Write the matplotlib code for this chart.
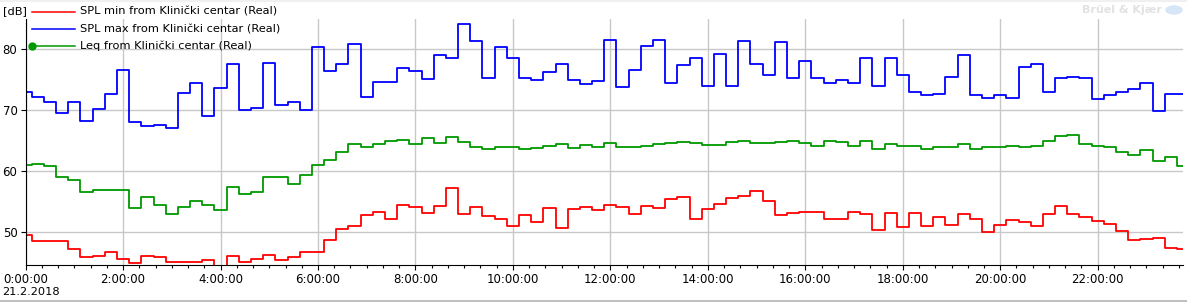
#Libraries
import numpy as np
import pandas as pd
import matplotlib
matplotlib.use('Agg')
import matplotlib.pyplot as plt
import matplotlib.dates as mdates
from matplotlib.lines import Line2D
from matplotlib.ticker import FuncFormatter
from matplotlib.patches import Ellipse

#15 minute values for 21.2.2018
times = pd.date_range('2018-02-21 00:00', periods=96, freq='15min')

spl_max = [73.0, 72.1, 71.3, 69.5, 71.4, 68.2, 70.2, 72.6, 76.6, 68.0,
           67.4, 67.5, 67.0, 72.8, 74.5, 69.1, 73.6, 77.5, 70.0, 70.3,
           77.7, 70.8, 71.3, 70.0, 80.3, 76.4, 77.6, 80.8, 72.1, 74.6,
           74.6, 76.9, 76.4, 75.1, 79.1, 78.5, 84.1, 81.3, 75.2, 80.3,
           78.5, 75.2, 74.9, 76.2, 77.5, 74.9, 74.3, 74.8, 81.5, 73.8,
           76.6, 80.5, 81.5, 74.4, 77.4, 78.5, 73.9, 79.2, 73.9, 81.3,
           77.6, 75.8, 81.1, 75.2, 78.0, 75.2, 74.4, 74.9, 74.4, 78.5,
           74.0, 78.6, 75.8, 73.0, 72.4, 72.7, 75.5, 79.0, 72.4, 72.0,
           72.4, 72.0, 77.0, 77.5, 73.0, 75.2, 75.5, 75.2, 71.9, 72.4,
           73.0, 73.5, 74.5, 69.9, 72.7, 72.7]

leq = [61.0, 61.2, 60.8, 59.0, 58.5, 56.6, 57.0, 57.0, 56.9, 53.9,
       55.7, 54.4, 53.0, 54.1, 55.1, 54.4, 53.6, 57.4, 56.2, 56.6,
       59.0, 59.0, 57.9, 59.4, 61.0, 61.8, 63.1, 64.4, 63.9, 64.4,
       64.9, 65.1, 64.4, 65.4, 64.6, 65.6, 64.8, 63.9, 63.6, 63.9,
       63.9, 63.6, 63.8, 64.1, 64.4, 63.8, 64.3, 63.9, 64.6, 63.9,
       63.9, 64.1, 64.4, 64.6, 64.8, 64.6, 64.3, 64.3, 64.8, 64.9,
       64.6, 64.6, 64.8, 64.9, 64.6, 64.2, 64.9, 64.7, 64.2, 64.9,
       63.7, 64.4, 64.2, 64.2, 63.7, 63.9, 63.9, 64.4, 63.6, 63.9,
       63.9, 64.2, 63.9, 64.1, 64.9, 65.7, 65.9, 64.4, 64.2, 63.9,
       63.1, 62.6, 63.4, 61.6, 62.3, 60.8]

spl_min = [49.5, 48.5, 48.5, 48.5, 47.2, 45.9, 46.1, 46.7, 45.7, 44.9,
           46.1, 45.9, 45.1, 45.1, 45.1, 45.4, 44.3, 46.1, 45.1, 45.6,
           46.2, 45.4, 45.9, 46.7, 46.7, 48.7, 50.5, 51.1, 52.8, 53.4,
           52.1, 54.4, 54.1, 53.1, 54.3, 57.2, 53.0, 54.1, 52.6, 52.1,
           51.0, 52.8, 51.6, 53.9, 50.7, 53.8, 54.1, 53.6, 54.4, 54.1,
           53.0, 54.3, 53.9, 55.4, 55.7, 52.1, 53.8, 54.6, 55.6, 55.9,
           56.7, 55.1, 52.8, 53.1, 53.4, 53.4, 52.2, 52.2, 53.4, 53.0,
           50.4, 53.2, 50.9, 53.2, 51.0, 52.5, 51.2, 53.0, 52.2, 50.1,
           51.2, 52.0, 51.7, 51.0, 53.0, 54.3, 53.0, 52.5, 51.9, 51.4,
           50.2, 48.7, 48.9, 49.1, 47.4, 47.3]

labels = ['SPL min from Klinički centar (Real)',
          'SPL max from Klinički centar (Real)',
          'Leq from Klinički centar (Real)']
colors = ['#ff0000', '#0000ff', '#009900']

W, H = 1187, 302
fig = plt.figure(figsize=(W/100, H/100), dpi=100)
ax = fig.add_axes([25.6/W, 37.3/H, (1183-25.6)/W, (264.7-18.5)/H])

ax.plot(times, spl_min, color=colors[0], lw=1.3, drawstyle='steps-mid')
ax.plot(times, spl_max, color=colors[1], lw=1.3, drawstyle='steps-mid')
ax.plot(times, leq, color=colors[2], lw=1.3, drawstyle='steps-mid')

ax.set_xlim(times[0], times[-1])
ax.set_ylim(44.69, 85.0)
ax.set_yticks([50, 60, 70, 80])

ax.xaxis.set_major_locator(mdates.HourLocator(byhour=range(0, 24, 2)))
ax.xaxis.set_minor_locator(mdates.MinuteLocator(byminute=[0, 20, 40]))
ax.xaxis.set_major_formatter(FuncFormatter(lambda x, pos: '%d:00:00' % mdates.num2date(x).hour))

ax.grid(True, which='major', color='#c8c8c8', lw=1)
ax.set_axisbelow(True)
for s in ['top', 'right']:
    ax.spines[s].set_visible(False)
ax.tick_params(which='major', length=3.9, width=0.8, labelsize=8.5, pad=2)
ax.tick_params(which='minor', length=2, width=0.8)

#legend drawn by hand, it sits above the plot area
rows = [12, 29, 46]
for lab, c, yy in zip(labels, colors, rows):
    fy = 1 - yy/H
    fig.add_artist(Line2D([32/W, 75/W], [fy, fy], color=c, lw=1.1, transform=fig.transFigure))
    fig.text(80/W, fy, lab, fontsize=8.2, va='center', ha='left')
fig.add_artist(Line2D([32/W], [1 - 46/H], color=colors[2], marker='o', ms=5,
                      transform=fig.transFigure))

fig.text(3/W, 1 - 11/H, '[dB]', fontsize=8.2, va='center')
fig.text(2/W, 1 - 292/H, '21.2.2018', fontsize=8.2, va='center')

#watermark
fig.text(1162/W, 1 - 10/H, 'Brüel & Kjær', fontsize=8, weight='bold',
         color='#e2e2e2', ha='right', va='center')
fig.add_artist(Ellipse((1174/W, 1 - 10/H), 16/W, 8/H, color='#d6e6f6',
                       transform=fig.transFigure))

#light borders at top and bottom
fig.add_artist(Line2D([0, 1], [0.8/H, 0.8/H], color='#b4b4b4', lw=1.2,
                      transform=fig.transFigure))
fig.add_artist(Line2D([0, 1], [1 - 0.8/H, 1 - 0.8/H], color='#f0f0f0', lw=1.5,
                      transform=fig.transFigure))

plt.savefig('out.png', dpi=100)
